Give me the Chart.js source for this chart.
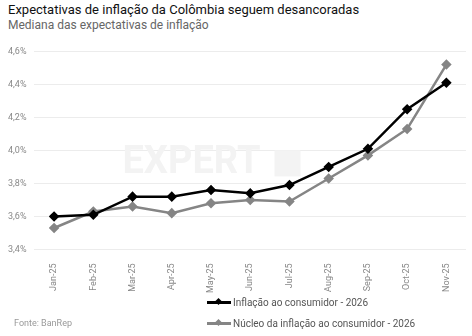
<!DOCTYPE html>
<html>
<head>
<meta charset="utf-8">
<script src="https://cdn.jsdelivr.net/npm/chart.js@4"></script>
<style>
  body { margin: 0; background: #fff; font-family: Roboto, sans-serif; }
  #wrap { position: relative; width: 472px; height: 336px; overflow: hidden; }
  #title { position: absolute; left: 8px; top: 2px; font-size: 13px; color: #111; }
  #subtitle { position: absolute; left: 8px; top: 18px; font-size: 12px; color: #666; }
  #chartBox { position: absolute; left: 0; top: 38px; width: 472px; height: 261px; }
  #source { position: absolute; left: 14px; top: 318px; font-size: 9px; color: #999; }
  #legend { position: absolute; left: 207px; top: 292px; font-size: 10px; color: #555; }
  .item { height: 21px; display: flex; align-items: center; }
  .swatch { position: relative; width: 24px; height: 3px; margin-right: 2px; }
  .swatch i { position: absolute; left: 9px; top: -2px; width: 5px; height: 5px; transform: rotate(45deg); }
</style>
</head>
<body>
<div id="wrap">
  <div id="title">Expectativas de inflação da Colômbia seguem desancoradas</div>
  <div id="subtitle">Mediana das expectativas de inflação</div>
  <div id="chartBox"><canvas id="chart"></canvas></div>
  <div id="legend"></div>
  <div id="source">Fonte: BanRep</div>
</div>
<script>
// meses
const months = ['Jan-25','Feb-25','Mar-25','Apr-25','May-25','Jun-25','Jul-25','Aug-25','Sep-25','Oct-25','Nov-25'];

// séries (% a.a.)
const inflacao = [3.60, 3.61, 3.72, 3.72, 3.76, 3.74, 3.79, 3.90, 4.01, 4.25, 4.41];
const nucleo = [3.53, 3.63, 3.66, 3.62, 3.68, 3.70, 3.69, 3.83, 3.97, 4.13, 4.52];

const seriesNames = ['Inflação ao consumidor - 2026', 'Núcleo da inflação ao consumidor - 2026'];
const seriesColors = ['#000000', '#858585'];

// eixo y
const yMin = 3.4, yMax = 4.6, yStep = 0.2;

// marca d'água
const watermark = {
  id: 'watermark',
  beforeDatasetsDraw(chart) {
    const { ctx, chartArea } = chart;
    ctx.save();
    ctx.fillStyle = '#f3f3f3';
    ctx.font = 'bold 38px Roboto, sans-serif';
    ctx.textBaseline = 'middle';
    const x = chartArea.left + 88;
    const y = chartArea.top + 112;
    ctx.fillText('EXPERT', x, y);
    ctx.fillRect(x + 152, y - 13, 26, 26);
    ctx.restore();
  }
};

const datasets = [inflacao, nucleo].map((d, i) => ({
  label: seriesNames[i],
  data: d,
  borderColor: seriesColors[i],
  backgroundColor: seriesColors[i],
  borderWidth: 2.5,
  pointStyle: 'rectRot',
  pointRadius: 3.5,
  pointHoverRadius: 3.5,
  tension: 0
}));

new Chart(document.getElementById('chart'), {
  type: 'line',
  data: { labels: months, datasets: datasets },
  options: {
    responsive: true,
    maintainAspectRatio: false,
    animation: false,
    layout: { padding: { top: 8, right: 3, left: 0, bottom: 0 } },
    plugins: { legend: { display: false }, tooltip: { enabled: false } },
    scales: {
      x: {
        offset: true,
        grid: { display: false },
        border: { display: false },
        ticks: {
          minRotation: 90, maxRotation: 90,
          color: '#888',
          font: { family: 'Roboto', size: 9 },
          padding: 6
        }
      },
      y: {
        min: yMin, max: yMax,
        grid: { color: '#ececec', drawTicks: false },
        border: { display: false },
        ticks: {
          stepSize: yStep,
          color: '#888',
          font: { family: 'Roboto', size: 9 },
          padding: 8,
          callback: v => v.toFixed(1).replace('.', ',') + '%'
        }
      }
    }
  },
  plugins: [watermark]
});

// legenda
const legend = document.getElementById('legend');
seriesNames.forEach((name, i) => {
  const row = document.createElement('div');
  row.className = 'item';
  row.innerHTML = `<span class="swatch" style="background:${seriesColors[i]}"><i style="background:${seriesColors[i]}"></i></span>${name}`;
  legend.appendChild(row);
});
</script>
</body>
</html>
